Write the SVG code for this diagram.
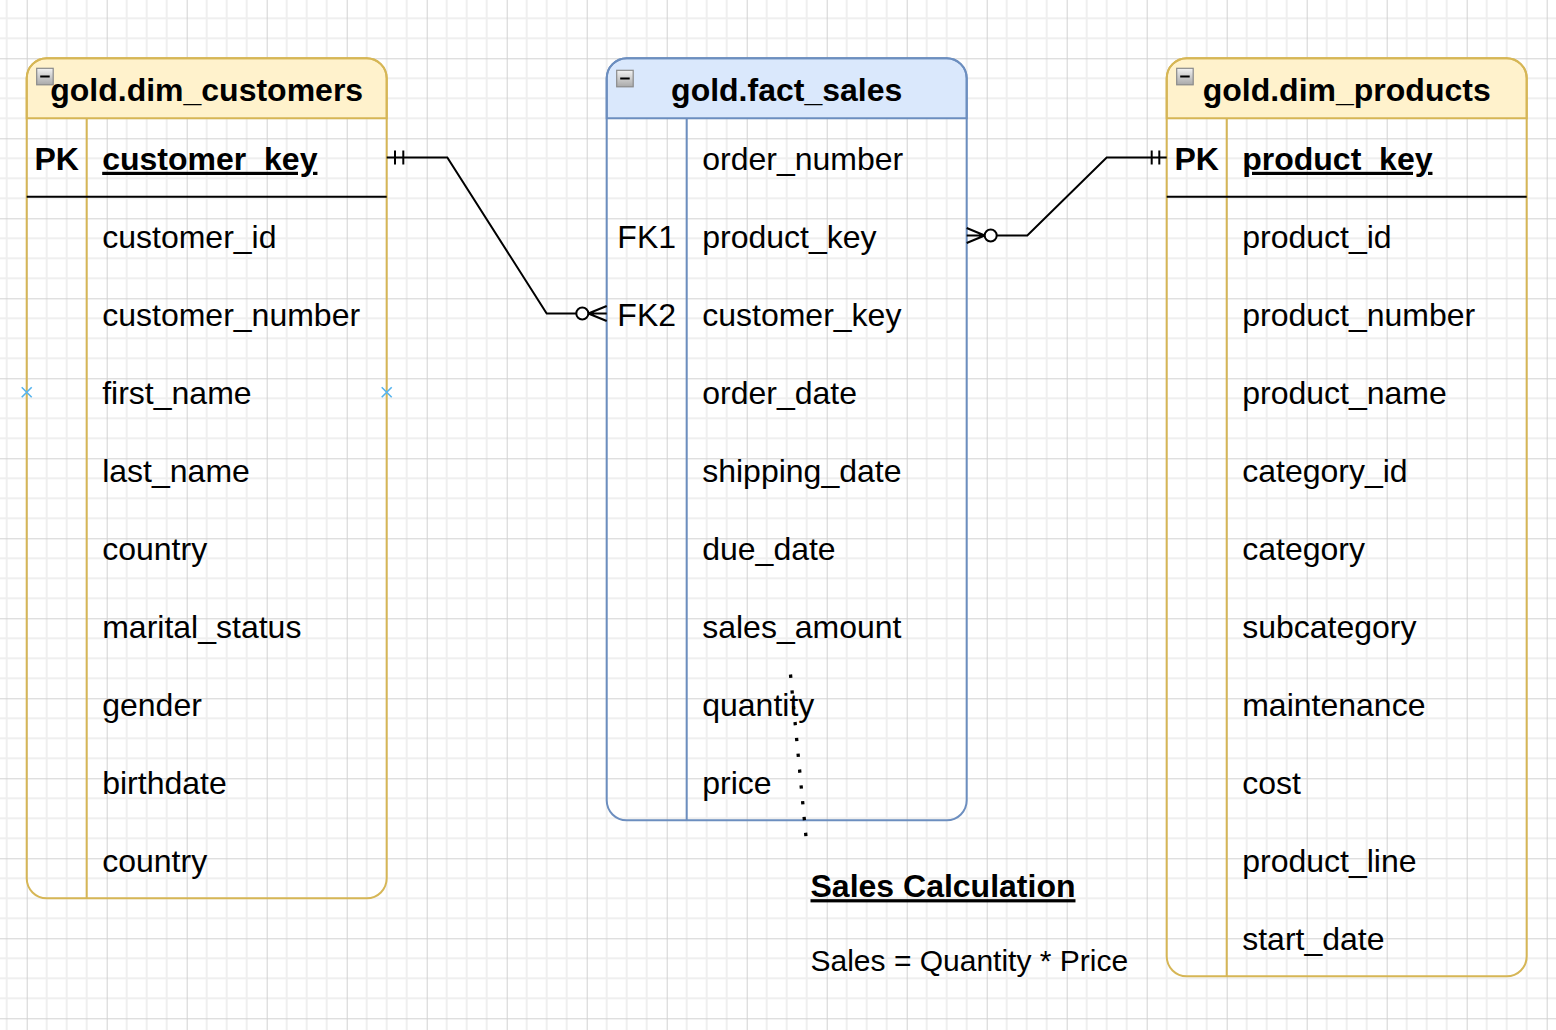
<svg xmlns="http://www.w3.org/2000/svg" width="1556" height="1030" viewBox="0 0 1556 1030">
<style>
.t{font-family:"Liberation Sans",Arial,Helvetica,sans-serif;font-size:32px;fill:#000}
.b{font-weight:bold}
.u{text-decoration:underline}
.c{text-anchor:middle}
.hy{fill:#fff2cc;stroke:#d6b656;stroke-width:2}
.hb{fill:#dae8fc;stroke:#6c8ebf;stroke-width:2}
.oy{fill:none;stroke:#d6b656;stroke-width:2}
.ob{fill:none;stroke:#6c8ebf;stroke-width:2}
.sep{stroke:#000;stroke-width:2}
.conn{fill:none;stroke:#000;stroke-width:2}
.circ{fill:#fff;stroke:#000;stroke-width:2}
.ico{fill:url(#icoGrad);stroke:#8a8a8a;stroke-width:1.2}
.icl{stroke:#000;stroke-width:2}
.hx{stroke:#55b4ef;stroke-width:1.6}
</style>
<defs>
<pattern id="grid" patternUnits="userSpaceOnUse" x="26.7" y="58.3" width="80" height="80">
<path d="M20 0V80M40 0V80M60 0V80M0 20H80M0 40H80M0 60H80" stroke="#efefef" stroke-width="2" fill="none"/>
<path d="M0.5 0V80M0 0.5H80" stroke="#d2d2d2" stroke-width="1" fill="none"/>
</pattern>
<linearGradient id="icoGrad" x1="0" y1="0" x2="0" y2="1">
<stop offset="0" stop-color="#f2f2f2"/>
<stop offset="1" stop-color="#a9a9a9"/>
</linearGradient>
</defs>
<rect width="1556" height="1030" fill="#fff"/>
<rect width="1556" height="1030" fill="url(#grid)"/>

<g id="dim_customers" transform="translate(26.7,58.3)">
<path class="hy" d="M0 60V20A20 20 0 0 1 20 0H340A20 20 0 0 1 360 20V60Z"/>
<rect class="oy" x="0" y="0" width="360" height="840" rx="20" ry="20"/>
<line class="oy" x1="60" y1="60" x2="60" y2="840"/>
<line class="sep" x1="0" y1="138.4" x2="360" y2="138.4"/>
<rect class="ico" x="10" y="10" width="16.5" height="16.5"/>
<line class="icl" x1="13.5" y1="18.2" x2="23" y2="18.2"/>
<text class="t b c" x="180" y="42.5">gold.dim_customers</text>
<text class="t b c" x="30" y="111.5">PK</text>
<text class="t b u" x="75.5" y="111.5">customer_key</text>
<text class="t" x="75.5" y="189.5">customer_id</text>
<text class="t" x="75.5" y="267.5">customer_number</text>
<text class="t" x="75.5" y="345.5">first_name</text>
<text class="t" x="75.5" y="423.5">last_name</text>
<text class="t" x="75.5" y="501.5">country</text>
<text class="t" x="75.5" y="579.5">marital_status</text>
<text class="t" x="75.5" y="657.5">gender</text>
<text class="t" x="75.5" y="735.5">birthdate</text>
<text class="t" x="75.5" y="813.5">country</text>
<path class="hx" d="M-5 329L5 339M-5 339L5 329M355 329L365 339M355 339L365 329"/>
</g>

<g id="fact_sales" transform="translate(606.7,58.3)">
<path class="hb" d="M0 60V20A20 20 0 0 1 20 0H340A20 20 0 0 1 360 20V60Z"/>
<rect class="ob" x="0" y="0" width="360" height="762" rx="20" ry="20"/>
<line class="ob" x1="80" y1="60" x2="80" y2="762"/>
<rect class="ico" x="10" y="12" width="16.5" height="16.5"/>
<line class="icl" x1="13.5" y1="20.2" x2="23" y2="20.2"/>
<text class="t b c" x="180" y="42.5">gold.fact_sales</text>
<text class="t" x="95.5" y="111.5">order_number</text>
<text class="t c" x="40" y="189.5">FK1</text>
<text class="t" x="95.5" y="189.5">product_key</text>
<text class="t c" x="40" y="267.5">FK2</text>
<text class="t" x="95.5" y="267.5">customer_key</text>
<text class="t" x="95.5" y="345.5">order_date</text>
<text class="t" x="95.5" y="423.5">shipping_date</text>
<text class="t" x="95.5" y="501.5">due_date</text>
<text class="t" x="95.5" y="579.5">sales_amount</text>
<text class="t" x="95.5" y="657.5">quantity</text>
<text class="t" x="95.5" y="735.5">price</text>
</g>

<g id="dim_products" transform="translate(1166.7,58.3)">
<path class="hy" d="M0 60V20A20 20 0 0 1 20 0H340A20 20 0 0 1 360 20V60Z"/>
<rect class="oy" x="0" y="0" width="360" height="918" rx="20" ry="20"/>
<line class="oy" x1="60" y1="60" x2="60" y2="918"/>
<line class="sep" x1="0" y1="138.4" x2="360" y2="138.4"/>
<rect class="ico" x="10" y="10" width="16.5" height="16.5"/>
<line class="icl" x1="13.5" y1="18.2" x2="23" y2="18.2"/>
<text class="t b c" x="180" y="42.5">gold.dim_products</text>
<text class="t b c" x="30" y="111.5">PK</text>
<text class="t b u" x="75.5" y="111.5">product_key</text>
<text class="t" x="75.5" y="189.5">product_id</text>
<text class="t" x="75.5" y="267.5">product_number</text>
<text class="t" x="75.5" y="345.5">product_name</text>
<text class="t" x="75.5" y="423.5">category_id</text>
<text class="t" x="75.5" y="501.5">category</text>
<text class="t" x="75.5" y="579.5">subcategory</text>
<text class="t" x="75.5" y="657.5">maintenance</text>
<text class="t" x="75.5" y="735.5">cost</text>
<text class="t" x="75.5" y="813.5">product_line</text>
<text class="t" x="75.5" y="891.5">start_date</text>
</g>

<g id="connectors">
<path class="conn" d="M386.7 157.5H447.3L546.7 313.5H576.3"/>
<path class="conn" d="M395 150.5V164.5M403.3 150.5V164.5"/>
<circle class="circ" cx="582.3" cy="313.5" r="6"/>
<path class="conn" d="M588.3 313.5L606.7 306M588.3 313.5H606.7M588.3 313.5L606.7 321"/>
<path class="conn" d="M996.7 235.5H1027.3L1106.7 157.5H1166.7"/>
<path class="conn" d="M1151.7 150.5V164.5M1159.3 150.5V164.5"/>
<circle class="circ" cx="990.7" cy="235.5" r="6"/>
<path class="conn" d="M984.7 235.5L966.7 228M984.7 235.5H966.7M984.7 235.5L966.7 243"/>
<path d="M790.5 674.5L806 837" fill="none" stroke="#000" stroke-width="3.3" stroke-dasharray="3.3 12.6"/>
</g>

<g id="sales_note">
<text class="t b u" x="810.5" y="897.2">Sales Calculation</text>
<text class="t" x="810.5" y="970.5" style="font-size:30px">Sales = Quantity * Price</text>
</g>
</svg>
